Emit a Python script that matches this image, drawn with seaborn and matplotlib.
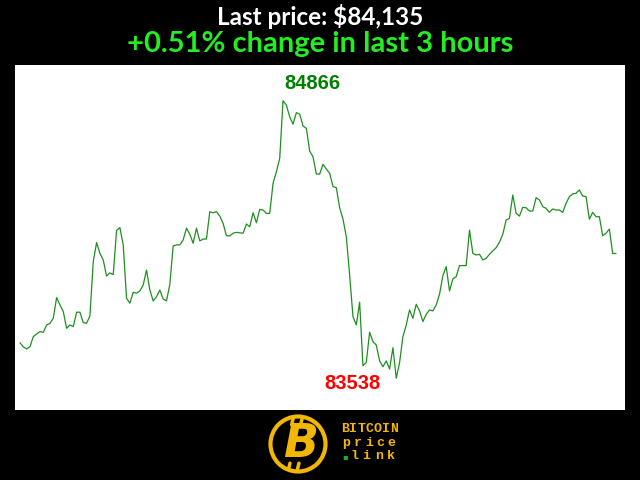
import numpy as np
import pandas as pd
import matplotlib
matplotlib.use("Agg")
import matplotlib.pyplot as plt
import seaborn as sns
from matplotlib.patches import Circle

# precio por minuto, ultimas 3 horas
precios = [
    83708, 83688, 83678, 83689, 83737, 83750, 83761, 83758, 83793, 83801,
    83825, 83924, 83889, 83857, 83777, 83793, 83785, 83854, 83854, 83804,
    83801, 83836, 84096, 84187, 84136, 84104, 84027, 84042, 84034, 84245,
    84259, 84176, 83921, 83897, 83949, 83945, 83956, 83984, 84056, 83960,
    83908, 83928, 83960, 83917, 83908, 83988, 84171, 84176, 84176, 84200,
    84256, 84227, 84184, 84256, 84195, 84204, 84204, 84335, 84330, 84335,
    84314, 84279, 84220, 84219, 84232, 84236, 84234, 84232, 84276, 84263,
    84330, 84282, 84346, 84343, 84327, 84327, 84471, 84526, 84590, 84866,
    84845, 84789, 84754, 84809, 84802, 84745, 84734, 84625, 84598, 84515,
    84515, 84562, 84539, 84519, 84455, 84450, 84354, 84300, 84215, 84032,
    83833, 83793, 83902, 83598, 83614, 83758, 83713, 83697, 83621, 83593,
    83621, 83582, 83684, 83538, 83613, 83737, 83793, 83865, 83825, 83892,
    83860, 83809, 83844, 83865, 83860, 83889, 83940, 84029, 84072, 83956,
    84013, 84024, 84077, 84077, 84077, 84247, 84136, 84128, 84131, 84104,
    84112, 84131, 84147, 84163, 84189, 84227, 84295, 84303, 84415, 84327,
    84314, 84356, 84354, 84338, 84338, 84402, 84391, 84359, 84351, 84332,
    84348, 84343, 84343, 84332, 84375, 84407, 84420, 84423, 84439, 84410,
    84407, 84299, 84332, 84311, 84311, 84220, 84232, 84252, 84135, 84135,
]
minutos = list(range(len(precios)))

titulo = "Last price: $84,135"
subtitulo = "+0.51% change in last 3 hours"
logo_palabras = ["BITCOIN", "price", "link"]

df = pd.DataFrame({"minuto": minutos, "precio": precios})

sns.set_style("white")
plt.rcParams["font.family"] = ["Lato", "DejaVu Sans"]

fig = plt.figure(figsize=(6.4, 4.8), dpi=100, facecolor="black")
ax = fig.add_axes([15 / 640, 1 - 410 / 480, 610 / 640, 345 / 480])
ax.set_facecolor("white")

sns.lineplot(data=df, x="minuto", y="precio", ax=ax, color="#1f8f1f", linewidth=0.9)

ax.set_xlim(-1.5, 181.7)
ax.set_ylim(83386, 85037)
ax.set_xticks([])
ax.set_yticks([])
ax.set_xlabel("")
ax.set_ylabel("")
for s in ax.spines.values():
    s.set_visible(False)

# maximo y minimo
i_max = int(np.argmax(precios))
i_min = int(np.argmin(precios))
ax.annotate(str(precios[i_max]), (minutos[i_max], precios[i_max]),
            xytext=(29, 17), textcoords="offset pixels", ha="center", va="center",
            fontsize=14.5, fontweight="bold", color="#008000", family="Liberation Sans")
ax.annotate(str(precios[i_min]), (minutos[i_min], precios[i_min]),
            xytext=(-44, -5), textcoords="offset pixels", ha="center", va="center",
            fontsize=14.5, fontweight="bold", color="#ff0000", family="Liberation Sans")

fig.text(0.5, 1 - 25 / 480, titulo, ha="center", va="baseline", color="white",
         fontsize=17.5, fontweight="bold")
fig.text(0.5, 1 - 52 / 480, subtitulo, ha="center", va="baseline", color="#22ee22",
         fontsize=21, fontweight="bold")

# logo
oro = "#f2b705"
lax = fig.add_axes([266 / 640, 1 - 476 / 480, 64 / 640, 64 / 480])
lax.set_xlim(-1, 1)
lax.set_ylim(-1, 1)
lax.axis("off")
lax.add_patch(Circle((0, 0), 0.86, fill=False, edgecolor=oro, linewidth=3))
lax.text(0.08, -0.02, "B", ha="center", va="center", color=oro, fontsize=33,
         fontweight="heavy", style="italic", family="DejaVu Sans")
lax.plot([-0.2, -0.15], [0.6, 0.8], color=oro, linewidth=2.5)
lax.plot([0.08, 0.13], [0.6, 0.8], color=oro, linewidth=2.5)
lax.plot([-0.3, -0.25], [-0.8, -0.6], color=oro, linewidth=2.5)
lax.plot([-0.02, 0.03], [-0.8, -0.6], color=oro, linewidth=2.5)

filas = [(429.5, 341, 398), (443, 341, 397), (456, 348, 397)]
for palabra, (yp, x0, x1) in zip(logo_palabras, filas):
    n = len(palabra)
    paso = (x1 - x0) / n
    for k, ch in enumerate(palabra):
        fig.text((x0 + paso * (k + 0.5)) / 640, 1 - yp / 480, ch, ha="center",
                 va="center", color=oro, fontsize=9.5, fontweight="bold",
                 family="Liberation Mono")
fig.text(345.5 / 640, 1 - 456.5 / 480, "\u25aa", ha="center", va="center",
         color="#22aa22", fontsize=6, family="DejaVu Sans")

fig.savefig("out.png", dpi=100, facecolor="black")
